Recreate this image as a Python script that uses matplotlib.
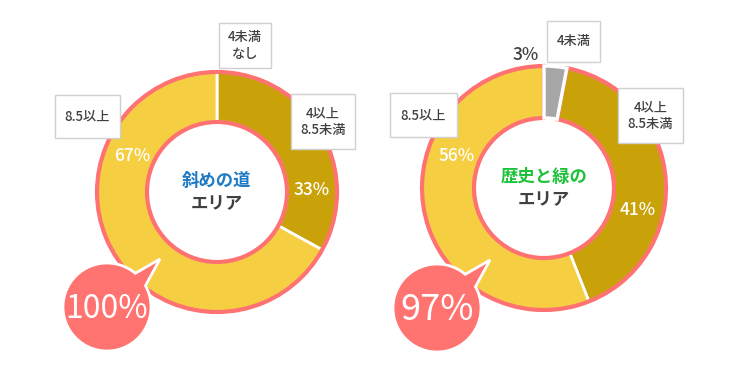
import numpy as np
import matplotlib
matplotlib.use("Agg")
import matplotlib.pyplot as plt
from matplotlib.patches import Rectangle, Polygon

plt.rcParams['font.family'] = ['Noto Sans CJK JP', 'DejaVu Sans']

# --- data ---
categories = ["4未満", "4以上 8.5未満", "8.5以上"]
area_names = ["斜めの道", "歴史と緑の"]
area_colors = ["#1E7BC4", "#1EC23A"]
shares_left = [0, 33, 67]
shares_right = [3, 41, 56]
over4_left = 100
over4_right = 97
box_text_left = ["4未満\nなし", "4以上\n8.5未満", "8.5以上"]
box_text_right = ["4未満", "4以上\n8.5未満", "8.5以上"]

seg_colors = ["#A6A6A6", "#C9A20A", "#F5CE42"]
PINK = "#FF7272"
W, H = 739, 372


def Y(py):
    return H - py


fig = plt.figure(figsize=(W / 100, H / 100), dpi=100)
ax = fig.add_axes([0, 0, 1, 1])
ax.set_xlim(0, W)
ax.set_ylim(0, H)
ax.set_aspect("equal")
ax.axis("off")

charts = [
    dict(vals=shares_left, total=over4_left, boxes=box_text_left, name=area_names[0],
         ncol=area_colors[0], c=(217, 192), R=120, r=70,
         box_pos=[(219, 23, 271, 68), (291, 94, 355, 149), (55, 95, 120, 138)],
         pct_pos=[None, (312, 190), (132, 156)], bub=(107, 307), bub_fs=23),
    dict(vals=shares_right, total=over4_right, boxes=box_text_right, name=area_names[1],
         ncol=area_colors[1], c=(544, 188), R=122, r=70,
         box_pos=[(547, 21, 600, 62), (618, 88, 683, 143), (390, 93, 457, 137)],
         pct_pos=[(526, 55), (638, 210), (457, 156)], bub=(437, 308), bub_fs=26),
]

for ch in charts:
    cx, cy = ch["c"][0], Y(ch["c"][1])
    R, r = ch["R"], ch["r"]
    # segments
    segs, _ = ax.pie(ch["vals"], colors=seg_colors, startangle=90, counterclock=False,
                     center=(cx, cy), radius=R, frame=True,
                     wedgeprops=dict(width=R - r, edgecolor="white", linewidth=2))
    # pink outline around the "4以上" group
    rest = 100 - ch["total"]
    wedges, _ = ax.pie([rest, ch["total"]], colors=["none", "none"], startangle=90,
                       counterclock=False, center=(cx, cy), radius=R, frame=True,
                       wedgeprops=dict(width=R - r, linewidth=3))
    wedges[0].set_edgecolor("none")
    wedges[1].set_edgecolor(PINK)
    wedges[1].set_linewidth(3.0)
    # small white gap around the grey "4未満" slice
    if rest > 0:
        segs[0].set_zorder(3)
        segs[0].set_linewidth(2.5)

    # percent labels
    for i, v in enumerate(ch["vals"]):
        pos = ch["pct_pos"][i]
        if pos is None or v == 0:
            continue
        col = "#404040" if i == 0 else "white"
        ax.text(pos[0], Y(pos[1]), f"{v}%", color=col, fontsize=12.5,
                fontweight="medium", ha="center", va="center")

    # label boxes
    for txt, (x0, y0, x1, y1) in zip(ch["boxes"], ch["box_pos"]):
        ax.add_patch(Rectangle((x0, Y(y1)), x1 - x0, y1 - y0, facecolor="white",
                               edgecolor="#D0D0D0", linewidth=1, zorder=5))
        ax.text((x0 + x1) / 2, Y((y0 + y1) / 2), txt, fontsize=9.5, color="#404040",
                fontweight="medium", ha="center", va="center", linespacing=1.25, zorder=6)

    # center text
    ax.text(cx, cy + 11, ch["name"], color=ch["ncol"], fontsize=12.5,
            fontweight="bold", ha="center", va="center")
    ax.text(cx, cy - 12, "エリア", color="#404040", fontsize=12.5,
            fontweight="bold", ha="center", va="center")

    # speech bubble
    bx, by = ch["bub"][0], Y(ch["bub"][1])
    br = 44
    a1, a2 = np.radians(29), np.radians(50)
    th = np.linspace(a2, a1 + 2 * np.pi, 200)
    pts = np.column_stack([bx + br * np.cos(th), by + br * np.sin(th)])
    tip = np.array([[bx + 53, by + 48]])
    pts = np.vstack([pts, tip])
    ax.add_patch(Polygon(pts, closed=True, facecolor="#FF7370", edgecolor="white",
                         linewidth=2, zorder=7))
    ax.text(bx, by - 2, f"{ch['total']}%", color="white", fontsize=ch["bub_fs"],
            ha="center", va="center", zorder=8)

ax.set_xlim(0, W)
ax.set_ylim(0, H)
ax.axis("off")
fig.savefig("out.png", dpi=100)
